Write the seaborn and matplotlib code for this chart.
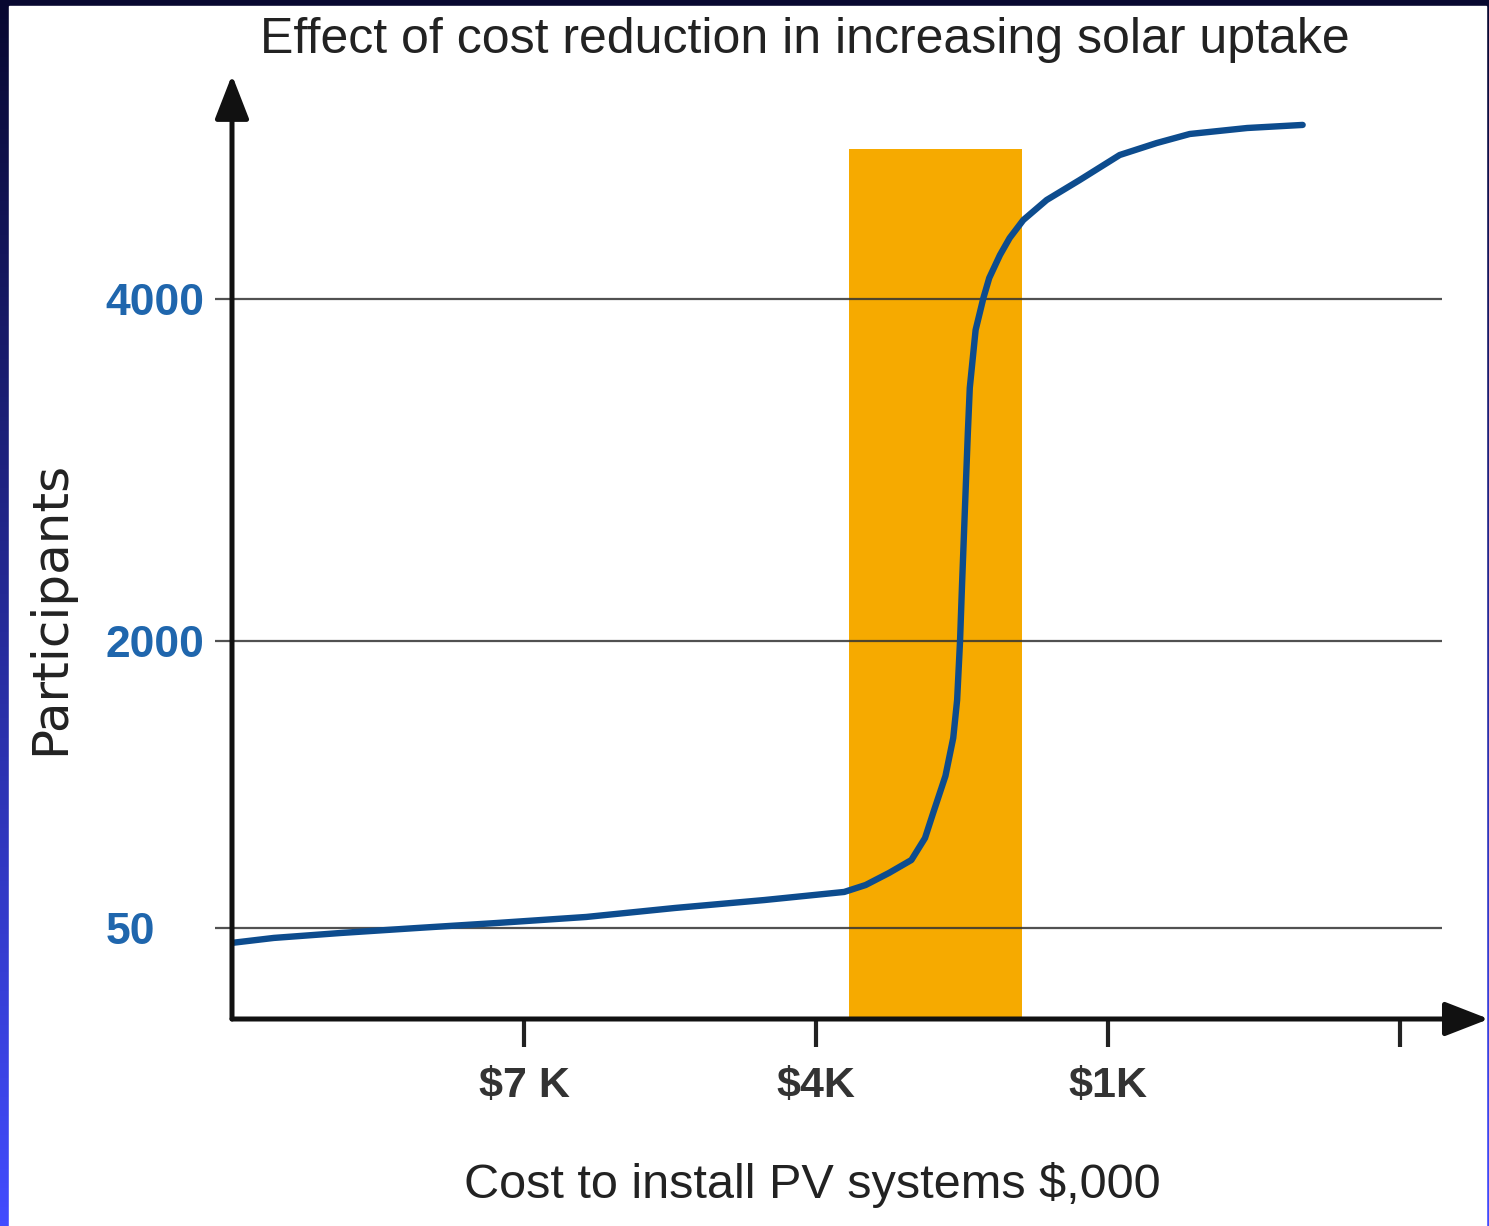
import numpy as np
import matplotlib
matplotlib.use("Agg")
import matplotlib.pyplot as plt
import seaborn as sns
from matplotlib.patches import Rectangle

# ---------------- data ----------------
cost_k = [10.00, 9.57, 8.88, 8.10, 7.28, 6.36, 5.45, 4.53, 3.71, 3.49, 3.25, 3.02,
          2.88, 2.80, 2.67, 2.59, 2.55, 2.52, 2.50, 2.47, 2.44, 2.42, 2.36, 2.28,
          2.22, 2.11, 2.01, 1.87, 1.63, 1.29, 0.88, 0.50, 0.16, -0.43, -1.00]
participants = [26, 34, 42, 50, 84, 125, 186, 240, 295, 342, 424, 512,
                661, 824, 1083, 1341, 1599, 2000, 2322, 2772, 3216, 3480, 3819, 4006,
                4123, 4257, 4357, 4462, 4579, 4696, 4842, 4912, 4965, 5000, 5018]

x_ticks = [7, 4, 1, -2]
x_tick_labels = ["$7 K", "$4K", "$1K", ""]
y_ticks = [50, 2000, 4000]
y_tick_labels = ["50", "2000", "4000"]

band_cost = [3.66, 1.88]      # highlighted cost range ($K)
band_top = 4880               # top of highlighted band (participants)

title = "Effect of cost reduction in increasing solar uptake"
xlabel = "Cost to install PV systems $,000"
ylabel = "Participants"

# --------------- non-linear (schematic) y scale -----------------
anchor_vals = np.array([-1000, 0, 50, 2000, 4000, 10000], dtype=float)
anchor_pos = np.array([-560, 60, 91, 378, 720, 1746], dtype=float)

def fwd(v):
    return np.interp(v, anchor_vals, anchor_pos)

def inv(p):
    return np.interp(p, anchor_pos, anchor_vals)

# ---------------- style ----------------
sns.set_theme(style="white")
fam = ["Liberation Sans", "DejaVu Sans"]
plt.rcParams["font.family"] = fam

W, H = 1489, 1226
fig = plt.figure(figsize=(W / 100, H / 100), dpi=100)

# gradient blue frame (navy at top -> bright blue at bottom)
bg = fig.add_axes([0, 0, 1, 1], zorder=-10)
grad = np.linspace(0, 1, 256)[:, None]
top_c = np.array([8, 8, 48]) / 255
bot_c = np.array([66, 76, 255]) / 255
img = top_c[None, None, :] * (1 - grad[:, :, None]) + bot_c[None, None, :] * grad[:, :, None]
img = np.repeat(img, 2, axis=1)
bg.imshow(img, aspect="auto", extent=[0, 1, 0, 1], origin="upper")
bg.set_xlim(0, 1)
bg.set_ylim(0, 1)
bg.axis("off")
bg.add_patch(Rectangle((9 / W, 0), (W - 12) / W, (H - 6) / H,
                       transform=bg.transAxes, color="white", zorder=5))

def px(x, y):
    return x / W, 1 - y / H

ax = fig.add_axes([232 / W, (H - 1019) / H, (1487 - 232) / W, (1019 - 75) / H])
ax.set_facecolor("none")
ax.set_yscale("function", functions=(fwd, inv))
ax.set_xlim(10, -2.894)
ax.set_ylim(inv(0), inv(944))

# highlighted band
ax.fill_between(band_cost, inv(0), band_top, color="#f6aa00", lw=0, zorder=1)

# gridlines
ax.hlines(y_ticks, 10.17, -2.43, colors="#333333", lw=1.6, alpha=0.85,
          zorder=2, clip_on=False)

# curve
sns.lineplot(x=cost_k, y=participants, sort=False, estimator=None, ax=ax,
             color="#0d4c8e", lw=4.6, zorder=4, solid_capstyle="round",
             solid_joinstyle="round")

# axes arrows
for xy in [(1.0015, 0), (0, 1.0)]:
    ax.annotate("", xy=xy, xytext=(0, 0), xycoords="axes fraction",
                arrowprops=dict(arrowstyle="-|>,head_length=0.9,head_width=0.35",
                                lw=3.6, color="#111111", mutation_scale=30,
                                shrinkA=0, shrinkB=0),
                zorder=6, annotation_clip=False)

for s in ax.spines.values():
    s.set_visible(False)

ax.set_xticks(x_ticks)
ax.set_xticklabels(x_tick_labels, fontsize=31, fontweight="bold", color="#333333",
                   family=fam)
ax.tick_params(axis="x", direction="out", length=20, width=3, color="#222222", pad=14,
               bottom=True)
ax.set_yticks(y_ticks)
ax.set_yticklabels(y_tick_labels, fontsize=32, fontweight="bold", color="#1f66ad",
                   family=fam)
ax.tick_params(axis="y", length=0, pad=91, left=True)
for lab in ax.get_yticklabels():
    lab.set_horizontalalignment("left")
ax.minorticks_off()
ax.set_xlabel("")
ax.set_ylabel("")
ax.grid(False)

fig.text(*px(805, 40), title, ha="center", va="center", fontsize=36,
         color="#222222", family=fam)
fig.text(*px(812, 1185), xlabel, ha="center", va="center", fontsize=35,
         color="#222222", family=fam)
fig.text(*px(50, 608), ylabel, ha="center", va="center", rotation=90, fontsize=36,
         color="#222222", family=["DejaVu Sans"])

fig.savefig("out.png", dpi=100)
